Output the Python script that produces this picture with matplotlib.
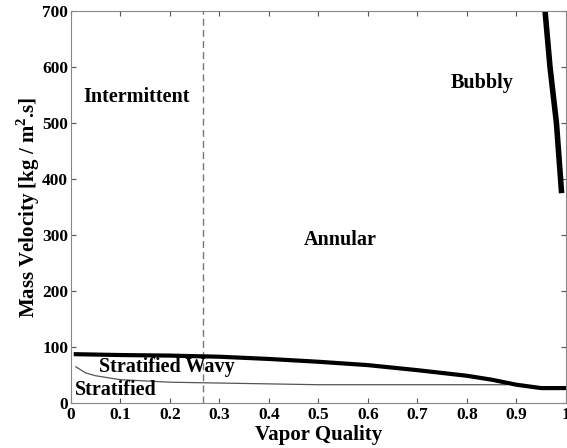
import matplotlib
matplotlib.use("Agg")
import matplotlib.pyplot as plt

plt.rcParams['font.family'] = 'Liberation Serif'
plt.rcParams['font.weight'] = 'bold'
plt.rcParams['mathtext.fontset'] = 'custom'
plt.rcParams['mathtext.rm'] = 'Liberation Serif:bold'
plt.rcParams['mathtext.bf'] = 'Liberation Serif:bold'

# Stratified-wavy / annular-intermittent boundary
wavy_x = [0.01, 0.1, 0.2, 0.3, 0.4, 0.5, 0.6, 0.7, 0.8, 0.85, 0.9, 0.95, 1.0]
wavy_y = [87.5, 86, 85, 83, 79, 74, 68, 59, 49, 42, 33, 27, 27]

# Stratified boundary
strat_x = [0.01, 0.03, 0.05, 0.1, 0.2, 0.3, 0.5, 0.7, 0.88]
strat_y = [65, 54, 49, 42, 37.5, 36, 33, 33, 33]

# Bubbly boundary
bub_x = [0.958, 0.968, 0.981, 0.991]
bub_y = [700, 600, 500, 380]

# Intermittent/annular transition
trans_x = 0.266

labels = ["Intermittent", "Bubbly", "Annular", "Stratified Wavy", "Stratified"]
label_x = [0.133, 0.831, 0.545, 0.193, 0.09]
label_y = [547, 572, 292, 65, 24]

fig = plt.figure(figsize=(5.67, 4.48), dpi=100)
ax = fig.add_axes([0.125, 0.1, 0.873, 0.875])

ax.axvline(trans_x, color='#777777', linestyle='--', linewidth=1.0, dashes=(5, 3))
ax.plot(strat_x, strat_y, color='#555555', linewidth=0.9)
ax.plot(wavy_x, wavy_y, color='black', linewidth=3)
ax.plot(bub_x, bub_y, color='black', linewidth=4)

for t, x, y in zip(labels, label_x, label_y):
    ax.text(x, y, t, ha='center', va='center', fontsize=14.5, fontweight='bold')

ax.set_xlim(0, 1)
ax.set_ylim(0, 700)
ax.set_xticks([0, 0.1, 0.2, 0.3, 0.4, 0.5, 0.6, 0.7, 0.8, 0.9, 1])
ax.set_xticklabels(['0', '0.1', '0.2', '0.3', '0.4', '0.5', '0.6', '0.7', '0.8', '0.9', '1'])
ax.set_yticks([0, 100, 200, 300, 400, 500, 600, 700])
ax.tick_params(direction='in', top=True, right=True, labelsize=12.5, color='#555555')
ax.tick_params(axis='x', pad=3)
ax.tick_params(axis='y', pad=2)
for lab in ax.get_xticklabels() + ax.get_yticklabels():
    lab.set_fontweight('bold')
for s in ax.spines.values():
    s.set_color('#888888')

ax.set_xlabel('Vapor Quality', fontsize=15, fontweight='bold', labelpad=1)
ax.set_ylabel(r'Mass Velocity [kg / m$^{2}$.s]', fontsize=15, fontweight='bold', labelpad=0)

fig.savefig('out.png', dpi=100)
